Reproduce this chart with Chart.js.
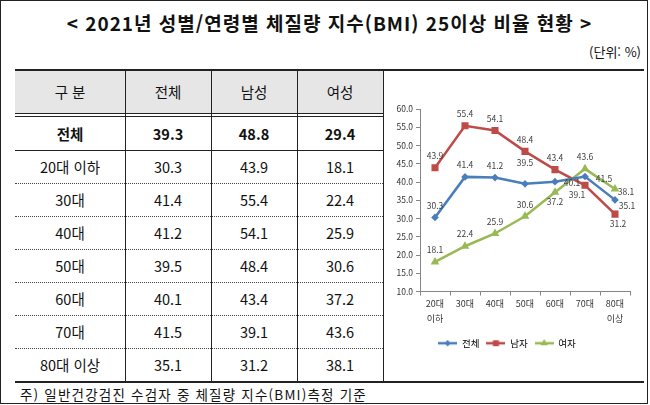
<!DOCTYPE html>
<html lang="ko">
<head>
<meta charset="utf-8">
<script src="https://cdn.jsdelivr.net/npm/chart.js@4"></script>
<style>
  html, body { margin: 0; padding: 0; background: #fff; }
  body { width: 650px; height: 405px; position: relative; overflow: hidden;
         font-family: "Noto Sans CJK KR", "Noto Sans", sans-serif; color: #111; }
  #frame { position: absolute; left: 0; top: 0; width: 648px; height: 404px;
           box-sizing: border-box; border: 1px solid #222; }
  #title { position: absolute; left: 0; top: 8px; width: 659px; text-align: center;
           font-size: 19px; font-weight: bold; line-height: 30px; letter-spacing: 1px; }
  #unit { position: absolute; right: 9px; top: 43px; font-size: 13px; line-height: 18px; }
  .ln { position: absolute; }
  .cell { position: absolute; text-align: center; font-size: 14.5px; }
  #note { position: absolute; left: 20px; top: 384px; font-size: 13.5px; line-height: 20px;
          letter-spacing: 1.2px; }
  #box { position: absolute; left: 384px; top: 96px; width: 264px; height: 266px; }
</style>
</head>
<body>
<div id="frame"></div>
<div id="title">&lt; 2021년 성별/연령별 체질량 지수(BMI) 25이상 비율 현황 &gt;</div>
<div id="unit">(단위: %)</div>
<div id="tbl"></div>
<div id="box"><canvas id="myChart"></canvas></div>
<div id="note">주) 일반건강검진 수검자 중 체질량 지수(BMI)측정 기준</div>
<script>
const tableHeads = ['구 분', '전체', '남성', '여성'];
const totalRow = [39.3, 48.8, 29.4];
const ageGroups = ['20대 이하', '30대', '40대', '50대', '60대', '70대', '80대 이상'];
const seriesNames = ['전체', '남자', '여자'];
const allValues = [30.3, 41.4, 41.2, 39.5, 40.1, 41.5, 35.1];
const maleValues = [43.9, 55.4, 54.1, 48.4, 43.4, 39.1, 31.2];
const femaleValues = [18.1, 22.4, 25.9, 30.6, 37.2, 43.6, 38.1];
const yMin = 10, yMax = 60, yStep = 5;

const colors = ['#4a7ebb', '#be4b48', '#98b954'];
const markers = ['rectRot', 'rect', 'triangle'];
const markerSizes = [3.8, 5, 5];

// label nudges (px) where the data label is not sitting straight above its point
const labelNudge = [
  {3: [0, -21], 4: [17, 1], 5: [19, 2], 6: [12, 6]},
  {5: [-8, 9], 6: [3, 10]},
  {4: [0, 10], 6: [11, 3]}
];

// ---- table ----
const tbl = document.getElementById('tbl');
const colX = [15, 125, 211, 297, 383];
const add = (css, html) => {
  const d = document.createElement('div');
  d.style.cssText = css;
  if (html !== undefined) d.innerHTML = html;
  tbl.appendChild(d);
  return d;
};

add('position:absolute;left:15px;top:71px;width:368px;height:42px;background:#e6e6e6');
add('position:absolute;left:15px;top:69px;width:629px;height:2px;background:#222');
add('position:absolute;left:15px;top:381px;width:629px;height:2px;background:#222');
add('position:absolute;left:15px;top:113px;width:368px;height:1px;background:#222');
add('position:absolute;left:15px;top:116px;width:368px;height:1px;background:#222');

tableHeads.forEach((h, c) => {
  add(`position:absolute;left:${colX[c]}px;top:71px;width:${colX[c + 1] - colX[c]}px;` +
      'height:42px;line-height:42px;text-align:center;font-size:14.5px', h);
});

const rows = [['전체'].concat(totalRow)];
ageGroups.forEach((g, i) => rows.push([g, allValues[i], maleValues[i], femaleValues[i]]));

const rowH = 33;
rows.forEach((r, i) => {
  const top = 117 + rowH * i;
  r.forEach((v, c) => {
    const txt = typeof v === 'number' ? v.toFixed(1) : v;
    add(`position:absolute;left:${colX[c]}px;top:${top}px;width:${colX[c + 1] - colX[c]}px;` +
        `height:${rowH}px;line-height:${rowH}px;text-align:center;font-size:14.5px;` +
        (i === 0 ? 'font-weight:bold;' : ''), txt);
  });
  if (i > 0) {
    const style = i === 1 ? 'border-top:1px solid #222' : 'border-top:1px dotted #444';
    add(`position:absolute;left:15px;top:${top}px;width:368px;height:0;${style}`);
  }
});

colX.slice(1).forEach(x => {
  add(`position:absolute;left:${x}px;top:71px;width:1px;height:310px;background:#222`);
});

// ---- chart ----
Chart.defaults.font.family = "'Noto Sans CJK KR', 'Noto Sans', sans-serif";
Chart.defaults.color = '#333';

const legendIcon = (i) => {
  const c = document.createElement('canvas');
  c.width = 19; c.height = 10;
  const g = c.getContext('2d');
  g.strokeStyle = colors[i];
  g.lineWidth = 2.5;
  g.beginPath(); g.moveTo(0, 5); g.lineTo(19, 5); g.stroke();
  g.fillStyle = colors[i];
  Chart.helpers.drawPoint(g, {pointStyle: markers[i], radius: markerSizes[i] * 0.8, borderWidth: 0}, 9.5, 5);
  g.fill();
  return c;
};

const dataLabels = {
  id: 'dataLabels',
  afterDatasetsDraw(chart) {
    const ctx = chart.ctx;
    ctx.save();
    ctx.font = "8.5px 'Noto Sans CJK KR', sans-serif";
    ctx.fillStyle = '#404040';
    ctx.textAlign = 'center';
    ctx.textBaseline = 'middle';
    chart.data.datasets.forEach((ds, d) => {
      chart.getDatasetMeta(d).data.forEach((pt, i) => {
        const n = labelNudge[d][i] || [0, -12];
        ctx.fillText(ds.data[i].toFixed(1), pt.x + n[0], pt.y + n[1]);
      });
    });
    ctx.restore();
  }
};

const seriesData = [allValues, maleValues, femaleValues];

new Chart(document.getElementById('myChart'), {
  type: 'line',
  data: {
    labels: ageGroups.map(g => g.split(' ')),
    datasets: seriesData.map((vals, i) => ({
      label: seriesNames[i],
      data: vals,
      borderColor: colors[i],
      backgroundColor: colors[i],
      borderWidth: 2.5,
      pointStyle: markers[i],
      pointRadius: markerSizes[i],
      pointHoverRadius: markerSizes[i],
      pointBorderWidth: 0,
      tension: 0
    }))
  },
  options: {
    responsive: true,
    maintainAspectRatio: false,
    animation: false,
    events: [],
    layout: { padding: { top: 13, right: 18, bottom: 4, left: 0 } },
    plugins: {
      tooltip: { enabled: false },
      legend: {
        position: 'bottom',
        labels: {
          usePointStyle: true,
          pointStyleWidth: 19,
          padding: 7,
          color: '#333',
          font: { size: 9.5 },
          generateLabels: (chart) => chart.data.datasets.map((ds, i) => ({
            text: ds.label,
            pointStyle: legendIcon(i),
            fillStyle: colors[i],
            strokeStyle: colors[i],
            lineWidth: 0,
            datasetIndex: i
          }))
        }
      }
    },
    scales: {
      x: {
        offset: true,
        grid: { offset: true, drawOnChartArea: false, tickLength: 4, color: '#868686' },
        border: { color: '#868686' },
        ticks: { autoSkip: false, maxRotation: 0, padding: 1, font: { size: 9, lineHeight: 1.65 } },
        afterFit: s => { s.height = 40; }
      },
      y: {
        min: yMin,
        max: yMax,
        grid: { drawOnChartArea: false, tickLength: 4, color: '#868686' },
        border: { color: '#868686' },
        ticks: { stepSize: yStep, padding: 3, font: { size: 8.5 }, callback: v => v.toFixed(1) },
        afterFit: s => { s.width = 36; }
      }
    }
  },
  plugins: [dataLabels]
});
</script>
</body>
</html>
